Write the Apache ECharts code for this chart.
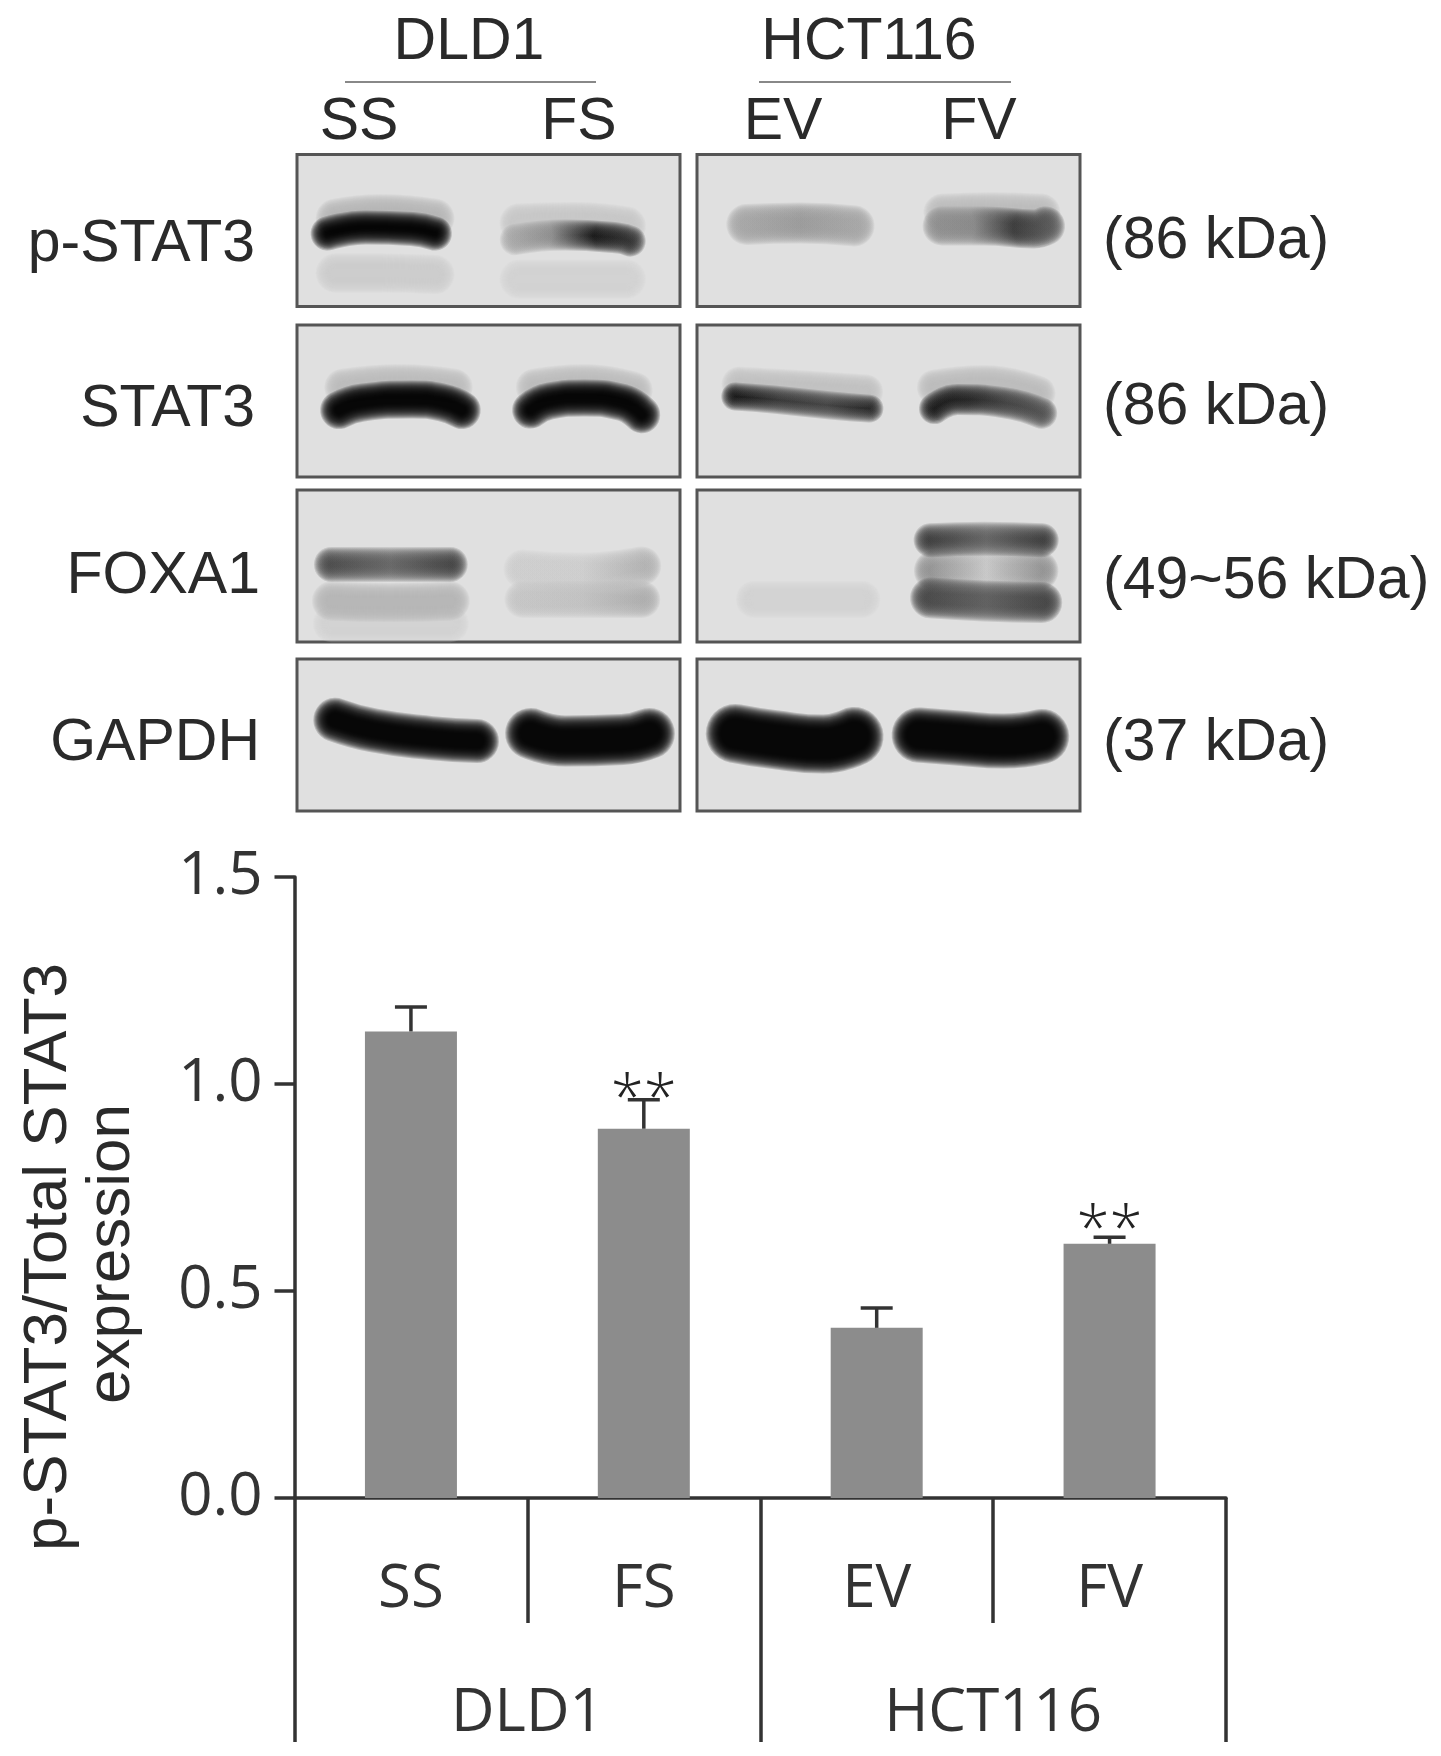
<!DOCTYPE html>
<html>
<head>
<meta charset="utf-8">
<title>p-STAT3</title>
<style>
html, body { margin: 0; padding: 0; background: #fff; }
#main { width: 1441px; height: 1756px; }
</style>
<script src="https://cdn.jsdelivr.net/npm/echarts@6/dist/echarts.min.js"></script>
</head>
<body>
<div id="main"></div>
<script>
// bar chart values
var samples = ['SS', 'FS', 'EV', 'FV'];
var cellLines = ['DLD1', 'HCT116'];
var means = [1.127, 0.892, 0.411, 0.614];
var errTops = [1.186, 0.962, 0.459, 0.630];
var sigMarks = ['', '**', '', '**'];
var sigLevels = [null, 1.032, null, 0.716];
var yTicks = ['0.0', '0.5', '1.0', '1.5'];

// blot labels
var proteins = ['p-STAT3', 'STAT3', 'FOXA1', 'GAPDH'];
var weights = ['(86 kDa)', '(86 kDa)', '(49~56 kDa)', '(37 kDa)'];

// blot bands, in percent of the panel: [row, col, x[], y[], width, colours]
var bands = [
    // p-STAT3
    [0, 0, [10, 22, 36], [42, 39, 42], 24, ['#b8b8b8']],
    [0, 0, [10, 22, 36], [78, 78, 79], 24, ['#cdcdcd']],
    [0, 0, [8, 18, 30, 36], [52, 48, 49, 52], 19, ['#000000']],
    [0, 0, [58, 72, 86], [45, 44, 47], 24, ['#c6c6c6']],
    [0, 0, [58, 72, 86], [82, 82, 82], 24, ['#d4d4d4']],
    [0, 0, [57, 70, 84, 87], [56, 53, 55, 57], 16, ['#a8a8a8', '#8c8c8c', '#141414', '#343434']],
    [0, 1, [13, 27, 41], [46, 45, 47], 26, ['#a6a6a6', '#9a9a9a', '#a6a6a6']],
    [0, 1, [64, 77, 90], [38, 37, 38], 22, ['#bcbcbc']],
    [0, 1, [64, 75, 88, 91], [47, 47, 49, 47], 24, ['#8e8e8e', '#888888', '#383838', '#5a5a5a']],
    // STAT3
    [1, 0, [12, 27, 41], [41, 38, 41], 22, ['#bdbdbd']],
    [1, 0, [11, 17, 30, 38, 43], [56, 51, 49, 51, 56], 23, ['#000000']],
    [1, 0, [62, 75, 88], [41, 38, 43], 22, ['#bdbdbd']],
    [1, 0, [61, 66, 75, 85, 90], [56, 50, 48, 51, 59], 22, ['#000000']],
    [1, 1, [11, 25, 44], [39, 41, 44], 20, ['#c2c2c2']],
    [1, 1, [10, 20, 35, 45], [47, 49, 53, 55], 13, ['#101010', '#343434', '#404040', '#202020']],
    [1, 1, [62, 75, 89], [41, 38, 45], 20, ['#bcbcbc']],
    [1, 1, [62, 68, 80, 90], [55, 49, 51, 58], 16, ['#141414', '#222222', '#404040', '#505050']],
    // FOXA1
    [2, 0, [9, 40], [88, 88], 22, ['#d0d0d0']],
    [2, 0, [9, 24, 40], [73, 74, 73], 24, ['#b6b6b6']],
    [2, 0, [9, 24, 40], [49, 49, 49], 20, ['#484848', '#646464', '#404040']],
    [2, 0, [59, 74, 90], [52, 54, 50], 24, ['#cccccc', '#cccccc', '#b0b0b0']],
    [2, 0, [59, 74, 90], [72, 72, 72], 22, ['#c4c4c4', '#c0c0c0', '#acacac']],
    [2, 1, [15, 28, 43], [72, 72, 72], 22, ['#d3d3d3']],
    [2, 1, [62, 75, 89], [53, 52, 53], 26, ['#8e8e8e', '#c6c6c6', '#8e8e8e']],
    [2, 1, [61, 75, 90], [33, 32, 33], 19, ['#383838', '#626262', '#383838']],
    [2, 1, [61, 75, 90], [71, 73, 74], 26, ['#444444', '#5c5c5c', '#404040']],
    // GAPDH
    [3, 0, [10, 20, 35, 47], [40, 47, 52, 54], 29, ['#000000']],
    [3, 0, [61, 70, 85, 92], [49, 54, 53, 49], 36, ['#000000']],
    [3, 1, [10, 20, 33, 41], [49, 53, 56, 51], 44, ['#000000']],
    [3, 1, [58, 68, 80, 90], [50, 52, 54, 51], 40, ['#000000']]
];

var dom = document.getElementById('main');
var myChart = echarts.init(dom);

var armFont = '"Liberation Sans", Arial, sans-serif';
var plotFont = '"Open Sans", sans-serif';
var inkLine = { color: '#333', width: 3.5 };

var grids = [{ left: 294.5, top: 877, width: 931.5, height: 621 }];
var xAxes = [
    {
        type: 'category', gridIndex: 0, position: 'bottom', data: samples,
        axisLine: { onZero: false, lineStyle: inkLine },
        axisTick: { show: true, length: 125, lineStyle: inkLine },
        axisLabel: { interval: 0, margin: 62, color: '#333', fontSize: 60, fontFamily: plotFont }
    },
    {
        type: 'category', gridIndex: 0, position: 'bottom', data: cellLines,
        axisLine: { show: false, onZero: false },
        axisTick: { show: true, length: 244, lineStyle: inkLine },
        axisLabel: { interval: 0, margin: 186, color: '#333', fontSize: 60, fontFamily: plotFont }
    }
];
var yAxes = [
    {
        type: 'value', gridIndex: 0, min: 0, max: 1.5, interval: 0.5,
        splitLine: { show: false },
        axisLine: { show: true, lineStyle: inkLine },
        axisTick: { show: true, length: 20, lineStyle: inkLine },
        axisLabel: {
            margin: 32, color: '#333', fontSize: 60, fontFamily: plotFont, padding: [6, 0, 0, 0],
            formatter: function (v) { return yTicks[Math.round(v / 0.5)]; }
        }
    }
];

// blot panels are grids with hidden percent axes
var panelLeft = [297, 697];
var panelTop = [154.5, 325, 490, 659];
for (var r = 0; r < 4; r++) {
    for (var c = 0; c < 2; c++) {
        grids.push({
            show: true, left: panelLeft[c], top: panelTop[r], width: 383, height: 152,
            backgroundColor: '#e0e0e0', borderColor: '#555', borderWidth: 3
        });
        xAxes.push({ type: 'value', show: false, gridIndex: grids.length - 1, min: 0, max: 100 });
        yAxes.push({ type: 'value', show: false, gridIndex: grids.length - 1, min: 0, max: 100, inverse: true });
    }
}

function bandColor(colors) {
    if (colors.length === 1) return colors[0];
    var stops = colors.map(function (col, i) {
        return { offset: i / (colors.length - 1), color: col };
    });
    return new echarts.graphic.LinearGradient(0, 0, 1, 0, stops);
}

var series = [];
bands.forEach(function (b) {
    var idx = b[0] * 2 + b[1];
    var pts = b[2].map(function (x, i) { return [x, b[3][i]]; });
    // soft edge: many faint strokes stacked from wide to narrow
    for (var extra = 15; extra >= -15; extra -= 2) {
        series.push({
            type: 'line', xAxisIndex: idx + 2, yAxisIndex: idx + 1, data: pts,
            smooth: true, symbol: 'none', silent: true,
            lineStyle: {
                color: bandColor(b[5]), width: Math.max(2, b[4] + extra), opacity: 0.18, cap: 'round', join: 'round'
            }
        });
    }
});

series.push({
    name: 'p-STAT3/Total STAT3',
    type: 'bar',
    xAxisIndex: 0,
    yAxisIndex: 0,
    barWidth: 92,
    itemStyle: { color: '#8c8c8c' },
    data: means
});
series.push({
    type: 'custom',
    xAxisIndex: 0,
    yAxisIndex: 0,
    silent: true,
    z: 5,
    data: samples.map(function (s, i) { return i; }),
    renderItem: function (params, api) {
        var i = api.value(0);
        var top = api.coord([i, errTops[i]]);
        var bottom = api.coord([i, means[i]]);
        var line = { stroke: '#333', lineWidth: 3.5 };
        var kids = [
            { type: 'line', shape: { x1: top[0], y1: top[1], x2: bottom[0], y2: bottom[1] }, style: line },
            { type: 'line', shape: { x1: top[0] - 16, y1: top[1], x2: top[0] + 16, y2: top[1] }, style: line }
        ];
        if (sigMarks[i]) {
            var s = api.coord([i, sigLevels[i]]);
            kids.push({
                type: 'text',
                style: {
                    text: sigMarks[i], x: s[0], y: s[1], fill: '#222',
                    font: '300 60px ' + plotFont, textAlign: 'center', textVerticalAlign: 'top'
                }
            });
        }
        return { type: 'group', children: kids };
    }
});

// texts and rules around the blot
var graphics = [];
function addText(str, x, y, align, size, rot) {
    graphics.push({
        type: 'text', x: x, y: y, rotation: rot || 0, silent: true,
        style: {
            text: str, fill: '#2a2a2a', font: size + 'px ' + armFont,
            textAlign: align, textVerticalAlign: 'middle'
        }
    });
}
var headerX = [469, 869];
cellLines.forEach(function (name, i) { addText(name, headerX[i], 43, 'center', 59); });
var sampleX = [359, 579, 783, 979];
samples.forEach(function (name, i) { addText(name, sampleX[i], 123, 'center', 59); });
var proteinX = [255, 255, 260, 260];
var proteinY = [245, 410, 577, 744];
proteins.forEach(function (name, i) { addText(name, proteinX[i], proteinY[i], 'right', 59); });
var weightY = [242, 408, 582, 744];
weights.forEach(function (name, i) { addText(name, 1103, weightY[i], 'left', 59); });
[[345, 596], [759, 1011]].forEach(function (seg) {
    graphics.push({
        type: 'line', silent: true, shape: { x1: seg[0], y1: 82, x2: seg[1], y2: 82 },
        style: { stroke: '#888', lineWidth: 2 }
    });
});
addText('p-STAT3/Total STAT3', 49, 1257, 'center', 62, Math.PI / 2);
addText('expression', 112, 1254, 'center', 62, Math.PI / 2);

var option = {
    animation: false,
    backgroundColor: '#fff',
    grid: grids,
    xAxis: xAxes,
    yAxis: yAxes,
    series: series,
    graphic: graphics
};
myChart.setOption(option, true);
</script>
</body>
</html>
